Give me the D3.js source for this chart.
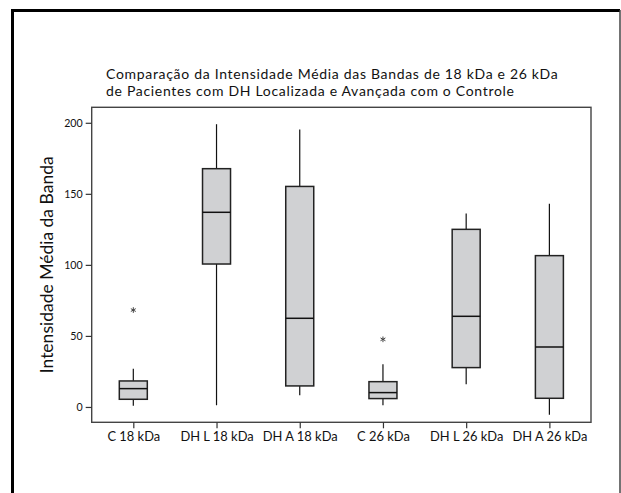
<!DOCTYPE html>
<html>
<head>
<meta charset="utf-8">
<script src="https://cdn.jsdelivr.net/npm/d3@7"></script>
<style>
  html, body { margin: 0; padding: 0; background: #fff; }
  svg { display: block; }
  text { font-family: Lato, "Open Sans", sans-serif; fill: #111; }
</style>
</head>
<body>
<svg id="chart" width="621" height="493"></svg>
<script>
const categories = ["C 18 kDa", "DH L 18 kDa", "DH A 18 kDa", "C 26 kDa", "DH L 26 kDa", "DH A 26 kDa"];
const whiskerLow  = [0.9, 1.2, 8.2, 1.2, 16.0, -5.4];
const q1          = [5.4, 100.6, 14.8, 5.9, 27.7, 6.1];
const median      = [12.9, 137.0, 62.4, 10.1, 63.8, 42.2];
const q3          = [18.3, 167.7, 155.2, 17.8, 125.0, 106.5];
const whiskerHigh = [26.9, 199.0, 195.3, 30.0, 136.2, 143.0];
const outliers    = [[68.2], [], [], [47.6], [], []];
const yTicks      = [0, 50, 100, 150, 200];
const titleLines  = ["Comparação da Intensidade Média das Bandas de 18 kDa e 26 kDa",
                     "de Pacientes com DH Localizada e Avançada com o Controle"];
const yLabel      = "Intensidade Média da Banda";

const svg = d3.select("#chart");

// outer frame
svg.append("line").attr("x1", 12.5).attr("x2", 12.5).attr("y1", 9).attr("y2", 500)
  .attr("stroke", "#000").attr("stroke-width", 3);
svg.append("line").attr("x1", 11).attr("x2", 620).attr("y1", 10.5).attr("y2", 10.5)
  .attr("stroke", "#000").attr("stroke-width", 3);
svg.append("line").attr("x1", 620).attr("x2", 620).attr("y1", 10).attr("y2", 500)
  .attr("stroke", "#444").attr("stroke-width", 1.5);

const L = 91.7, R = 591, T = 107.3, B = 422.3;

const x = d3.scalePoint().domain(categories).range([L, R]).padding(0.5);
const y = d3.scaleLinear().domain([-10.8, 210.9]).range([B, T]);

function fitSize(node, fs, target) {
  const w = node.getComputedTextLength();
  return +(fs * target / w).toFixed(2);
}

// plot frame
svg.append("rect").attr("x", L).attr("y", T).attr("width", R - L).attr("height", B - T)
  .attr("fill", "none").attr("stroke", "#444").attr("stroke-width", 1.4);

// y axis
const yAxis = svg.append("g").attr("transform", `translate(${L},0)`)
  .call(d3.axisLeft(y).tickValues(yTicks).tickSize(6).tickPadding(3));
yAxis.select(".domain").remove();
yAxis.selectAll(".tick line").attr("stroke", "#333").attr("stroke-width", 1.2);
const yt = yAxis.selectAll(".tick text").attr("font-size", 12).attr("font-family", "Lato").attr("fill", "#111");
const yfs = fitSize(yt.filter(d => d === 150).node(), 12, 18.5);
yt.attr("font-size", yfs);

// x axis
const xAxis = svg.append("g").attr("transform", `translate(0,${B})`)
  .call(d3.axisBottom(x).tickSize(6).tickPadding(4));
xAxis.select(".domain").remove();
xAxis.selectAll(".tick line").attr("stroke", "#333").attr("stroke-width", 1.2);
const xt = xAxis.selectAll(".tick text").attr("font-size", 12).attr("font-family", "Lato").attr("fill", "#111");
const xfs = fitSize(xt.filter(d => d === "DH L 18 kDa").node(), 12, 73.3);
xt.attr("font-size", xfs);

// boxes
const data = categories.map((c, i) => ({
  c, lo: whiskerLow[i], q1: q1[i], med: median[i], q3: q3[i], hi: whiskerHigh[i], out: outliers[i]
}));
const bw = 28;
const g = svg.append("g");
const box = g.selectAll("g.box").data(data).join("g").attr("class", "box");
box.append("line").attr("x1", d => x(d.c)).attr("x2", d => x(d.c))
  .attr("y1", d => y(d.q3)).attr("y2", d => y(d.hi)).attr("stroke", "#111").attr("stroke-width", 1.2);
box.append("line").attr("x1", d => x(d.c)).attr("x2", d => x(d.c))
  .attr("y1", d => y(d.q1)).attr("y2", d => y(d.lo)).attr("stroke", "#111").attr("stroke-width", 1.2);
box.append("rect").attr("x", d => x(d.c) - bw / 2).attr("width", bw)
  .attr("y", d => y(d.q3)).attr("height", d => y(d.q1) - y(d.q3))
  .attr("fill", "#d0d1d3").attr("stroke", "#222").attr("stroke-width", 1.5);
box.append("line").attr("x1", d => x(d.c) - bw / 2).attr("x2", d => x(d.c) + bw / 2)
  .attr("y1", d => y(d.med)).attr("y2", d => y(d.med)).attr("stroke", "#111").attr("stroke-width", 1.5);

const sym = d3.symbol().type(d3.symbolAsterisk || d3.symbolTimes).size(22);
box.selectAll("path.out").data(d => d.out.map(v => ({ c: d.c, v }))).join("path")
  .attr("class", "out")
  .attr("transform", d => `translate(${x(d.c)},${y(d.v)})`)
  .attr("d", sym).attr("fill", "none").attr("stroke", "#444").attr("stroke-width", 1);

// title: 14px with a little letter-spacing so line 1 spans ~452px like the reference
const tfs = 14;
const t1 = svg.append("text").attr("x", 106).attr("y", 78.5).attr("font-size", tfs).text(titleLines[0]);
const w1 = t1.node().getComputedTextLength();
const ls = Math.max(0, (452 - w1) / (titleLines[0].length - 1));
t1.attr("letter-spacing", ls.toFixed(2));
svg.append("text").attr("x", 106).attr("y", 95.5).attr("font-size", tfs)
  .attr("letter-spacing", ls.toFixed(2)).text(titleLines[1]);

// y label
const yl = svg.append("text").attr("transform", `translate(53,${(T + B) / 2}) rotate(-90)`)
  .attr("text-anchor", "middle").attr("font-size", 15).text(yLabel);
yl.attr("font-size", fitSize(yl.node(), 15, 217));
</script>
</body>
</html>
